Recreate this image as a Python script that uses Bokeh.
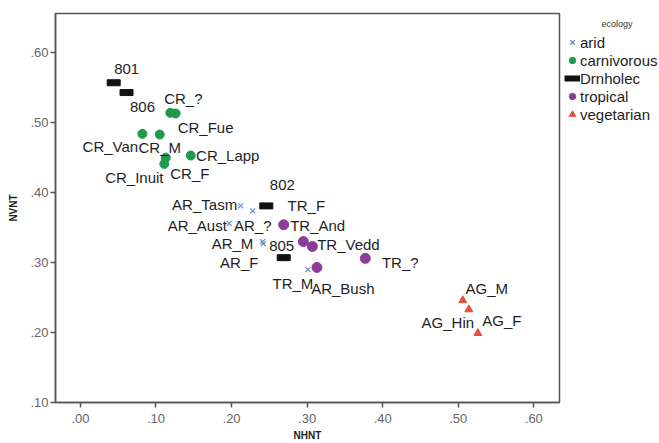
from bokeh.plotting import figure
from bokeh.layouts import row
from bokeh.models import (Range1d, FixedTicker, CustomJSTickFormatter, ColumnDataSource,
                          LabelSet, Legend, LegendItem)
from bokeh.embed import file_html
from bokeh.resources import INLINE
from bokeh.core.properties import value

# ---------------- data ----------------
arid_names = ["AR_Tasm", "AR_?", "AR_Aust", "AR_M", "AR_F", "AR_Bush"]
arid_x = [0.212, 0.228, 0.197, 0.241, 0.242, 0.301]
arid_y = [0.381, 0.374, 0.356, 0.330, 0.327, 0.290]

carn_names = ["CR_?", "CR_Fue", "CR_Van", "CR_M", "CR_Lapp", "CR_F", "CR_Inuit"]
carn_x = [0.119, 0.126, 0.082, 0.105, 0.146, 0.113, 0.111]
carn_y = [0.514, 0.513, 0.484, 0.483, 0.453, 0.450, 0.441]

drn_names = ["801", "806", "802", "805"]
drn_x = [0.044, 0.061, 0.246, 0.269]
drn_y = [0.557, 0.543, 0.381, 0.307]

trop_names = ["TR_And", "TR_F", "TR_Vedd", "TR_?", "TR_M"]
trop_x = [0.269, 0.295, 0.307, 0.377, 0.313]
trop_y = [0.354, 0.330, 0.323, 0.306, 0.293]

veg_names = ["AG_M", "AG_Hin", "AG_F"]
veg_x = [0.506, 0.514, 0.526]
veg_y = [0.246, 0.233, 0.199]

legend_labels = ["arid", "carnivorous", "Drnholec", "tropical", "vegetarian"]
legend_title = "ecology"

x_ticks = [0.0, 0.1, 0.2, 0.3, 0.4, 0.5, 0.6]
y_ticks = [0.1, 0.2, 0.3, 0.4, 0.5, 0.6]

# label placement (screen px, right / down) relative to each point
label_offsets = {
    "801": (13, -14), "806": (16, 14), "802": (16, -21), "805": (-2, -12),
    "CR_?": (13, -14), "CR_Fue": (30, 14), "CR_Van": (-32, 13), "CR_M": (0, 13),
    "CR_Lapp": (37, 0), "CR_F": (24, 16), "CR_Inuit": (-30, 14),
    "AR_Tasm": (-36, -1), "AR_?": (0, 15), "AR_Aust": (-32, 2), "AR_M": (-30, 2),
    "AR_F": (-24, 19), "AR_Bush": (35, 19),
    "TR_F": (3, -36), "TR_And": (34, 1), "TR_Vedd": (36, -2), "TR_?": (35, 4),
    "TR_M": (-24, 16),
    "AG_M": (24, -12), "AG_Hin": (-21, 13), "AG_F": (24, -13),
}

FONT = "Liberation Sans"
C_ARID, C_CARN, C_DRN, C_TROP, C_VEG = "#6a8cd2", "#1f9a4c", "#111111", "#8e3c9c", "#e4503e"

p = figure(width=561, height=443, output_backend="svg", toolbar_location=None,
           x_range=Range1d(-0.033, 0.634), y_range=Range1d(0.10, 0.656),
           min_border_left=55, min_border_right=2, min_border_top=13, min_border_bottom=40,
           background_fill_color="white", border_fill_color="white")
p.grid.visible = False
p.outline_line_color = "#555555"
p.outline_line_width = 1.5

for ax in (p.xaxis[0], p.yaxis[0]):
    ax.axis_line_color = "#555555"
    ax.axis_line_width = 1.5
    ax.major_tick_line_color = "#555555"
    ax.major_tick_line_width = 1.5
    ax.major_tick_in = 0
    ax.major_tick_out = 5
    ax.minor_tick_line_color = None
    ax.major_label_text_font = FONT
    ax.major_label_text_font_size = "13px"
    ax.major_label_text_color = "#666666"
    ax.axis_label_text_font = FONT
    ax.axis_label_text_font_size = "10px"
    ax.axis_label_text_font_style = "bold"
    ax.axis_label_text_color = "#222222"
    ax.formatter = CustomJSTickFormatter(code="return tick.toFixed(2).replace(/^0/, '');")

p.xaxis.ticker = FixedTicker(ticks=x_ticks)
p.yaxis.ticker = FixedTicker(ticks=y_ticks)
p.xaxis.axis_label = "NHNT"
p.yaxis.axis_label = "NVNT"
p.xaxis.major_label_standoff = 6
p.xaxis.axis_label_standoff = 4
p.yaxis.major_label_standoff = 2
p.yaxis.axis_label_standoff = 8

def src(names, xs, ys):
    return ColumnDataSource(dict(
        x=xs, y=ys, name=names,
        dx=[label_offsets[n][0] for n in names],
        dy=[-label_offsets[n][1] for n in names]))

s_arid = src(arid_names, arid_x, arid_y)
s_carn = src(carn_names, carn_x, carn_y)
s_drn = src(drn_names, drn_x, drn_y)
s_trop = src(trop_names, trop_x, trop_y)
s_veg = src(veg_names, veg_x, veg_y)

p.scatter("x", "y", source=s_arid, marker="x", size=7, line_color=C_ARID, line_width=1.2)
p.scatter("x", "y", source=s_carn, marker="circle", size=9, fill_color=C_CARN, line_color=C_CARN)
p.rect("x", "y", width=13, height=6, width_units="screen", height_units="screen",
       source=s_drn, fill_color=C_DRN, line_color=C_DRN)
p.scatter("x", "y", source=s_trop, marker="circle", size=10, fill_color=C_TROP, line_color=C_TROP)
p.scatter("x", "y", source=s_veg, marker="triangle", size=8, fill_color=C_VEG, line_color=C_VEG)

for s in (s_arid, s_carn, s_drn, s_trop, s_veg):
    p.add_layout(LabelSet(x="x", y="y", text="name", source=s, x_offset="dx", y_offset="dy",
                          text_align="center", text_baseline="middle",
                          text_font=value(FONT), text_font_size="15px", text_color="#1e1e1e"))

# ---------------- legend panel ----------------
lg = figure(width=98, height=443, output_backend="svg", toolbar_location=None,
            x_range=Range1d(0, 1), y_range=Range1d(0, 1),
            x_axis_location=None, y_axis_location=None,
            min_border_left=0, min_border_right=0, min_border_top=13, min_border_bottom=40,
            background_fill_color="white", border_fill_color="white")
lg.grid.visible = False
lg.outline_line_color = None

# key renderers (hidden; they only supply the legend swatches)
k_arid = lg.scatter("x", "y", source=s_arid, marker="x", line_color=C_ARID, line_width=1.4, visible=False)
k_carn = lg.scatter("x", "y", source=s_carn, marker="circle", fill_color=C_CARN, line_color=C_CARN, visible=False)
k_drn = lg.line("x", "y", source=s_drn, line_width=6, line_color=C_DRN, line_cap="butt", visible=False)
k_trop = lg.scatter("x", "y", source=s_trop, marker="circle", fill_color=C_TROP, line_color=C_TROP, visible=False)
k_veg = lg.scatter("x", "y", source=s_veg, marker="triangle", fill_color=C_VEG, line_color=C_VEG, visible=False)

legend = Legend(items=[LegendItem(label=lab, renderers=[r]) for lab, r in
                       zip(legend_labels, [k_arid, k_carn, k_drn, k_trop, k_veg])],
                location=(3, 279), title="\u00a0" * 15 + legend_title)
legend.title_text_font = FONT
legend.title_text_font_size = "9px"
legend.title_text_font_style = "normal"
legend.title_text_color = "#333333"
legend.title_standoff = 4
legend.label_text_font = FONT
legend.label_text_font_size = "15px"
legend.label_text_color = "#1e1e1e"
legend.glyph_width = 16
legend.glyph_height = 18
legend.label_height = 18
legend.label_standoff = 0
legend.spacing = 0
legend.padding = 0
legend.margin = 0
legend.border_line_color = None
legend.background_fill_alpha = 0
legend.inactive_fill_alpha = 0
lg.add_layout(legend, "center")

layout = row(p, lg, spacing=0)
open("out.html", "w").write(file_html(layout, INLINE))
